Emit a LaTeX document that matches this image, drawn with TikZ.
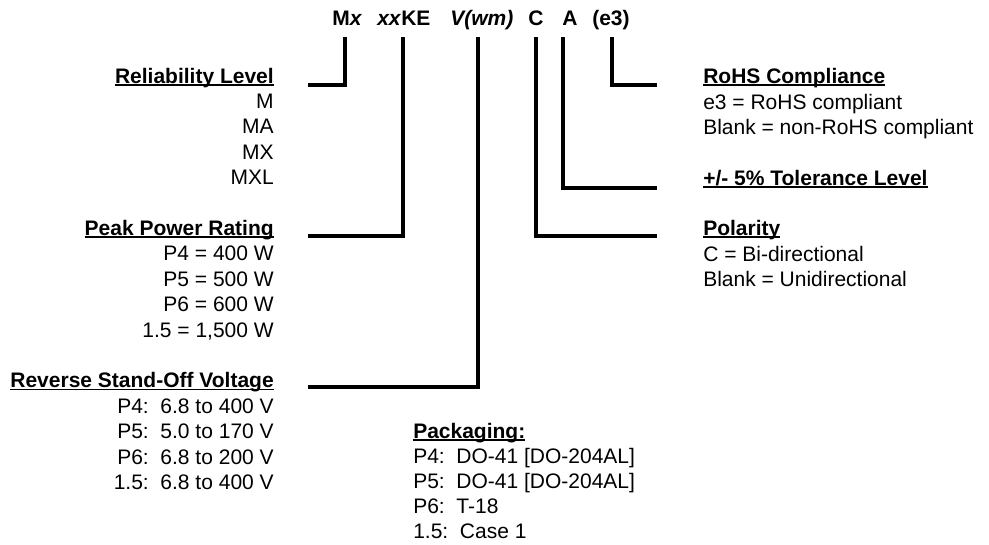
\documentclass[tikz,border=0pt]{standalone}
\usepackage{fontspec}
\setmainfont{Liberation Sans}
\newcommand{\hdr}[1]{\setbox0\hbox{\bfseries #1}\rlap{\rule[-1.9pt]{\wd0}{1.3pt}}\box0}
\tikzset{
  txt/.style={inner sep=0pt, font=\fontsize{15.75}{19}\selectfont\frenchspacing},
  lft/.style={txt, anchor=base east},
  rgt/.style={txt, anchor=base west},
  hd/.style={txt, anchor=base west, font=\fontsize{15.75}{19}\selectfont\bfseries},
  conn/.style={line width=2.4pt, line join=miter}
}
\begin{document}
\begin{tikzpicture}[x=0.75pt,y=-0.75pt]
\useasboundingbox (0,0) rectangle (989,544);
% header
\node[hd] (hMx) at (332,25) {M\textit{x}};
\node[hd] (hxx) at (377,25) {\textit{xx}KE};
\node[hd] (hV) at (450,25) {\textit{V(wm)}};
\node[hd] (hC) at (528,25) {C};
\node[hd] (hA) at (562,25) {A};
\node[hd] (he3) at (592,25) {(e3)};
% connector ends
\coordinate (tMx) at (345,37);
\coordinate (txx) at (403,37);
\coordinate (tV) at (478,37);
\coordinate (tC) at (536,37);
\coordinate (tA) at (563,37);
\coordinate (te3) at (612,37);
\coordinate (eMx) at (308,85);
\coordinate (exx) at (308,236);
\coordinate (eV) at (308,387);
\coordinate (eC) at (657,236);
\coordinate (eA) at (657,188);
\coordinate (ee3) at (657,85);
\draw[conn] (tMx) |- (eMx);
\draw[conn] (txx) |- (exx);
\draw[conn] (tV) |- (eV);
\draw[conn] (tC) |- (eC);
\draw[conn] (tA) |- (eA);
\draw[conn] (te3) |- (ee3);
% left column
\node[lft] (rel) at (274,83) {\hdr{Reliability Level}};
\node[lft] (rel1) at (274,108.4) {M};
\node[lft] (rel2) at (274,133.8) {MA};
\node[lft] (rel3) at (274,159.2) {MX};
\node[lft] (rel4) at (274,184.6) {MXL};
\node[lft] (ppr) at (274,235.4) {\hdr{Peak Power Rating}};
\node[lft] (ppr1) at (274,260.8) {P4 = 400 W};
\node[lft] (ppr2) at (274,286.2) {P5 = 500 W};
\node[lft] (ppr3) at (274,311.6) {P6 = 600 W};
\node[lft] (ppr4) at (274,337) {1.5 = 1,500 W};
\node[lft] (rso) at (274,387.8) {\hdr{Reverse Stand-Off Voltage}};
\node[lft] (rso1) at (274,413.2) {P4:\ \ 6.8 to 400 V};
\node[lft] (rso2) at (274,438.6) {P5:\ \ 5.0 to 170 V};
\node[lft] (rso3) at (274,464) {P6:\ \ 6.8 to 200 V};
\node[lft] (rso4) at (274,489.4) {1.5:\ \ 6.8 to 400 V};
% right column
\node[rgt] (rohs) at (703,83.5) {\hdr{RoHS Compliance}};
\node[rgt] (rohs1) at (703,109) {e3 = RoHS compliant};
\node[rgt] (rohs2) at (703,134.4) {Blank = non-RoHS compliant};
\node[rgt] (tol) at (703,185.2) {\hdr{+/- 5\% Tolerance Level}};
\node[rgt] (pol) at (703,235.6) {\hdr{Polarity}};
\node[rgt] (pol1) at (703,261) {C = Bi-directional};
\node[rgt] (pol2) at (703,286.4) {Blank = Unidirectional};
% packaging
\node[rgt] (pkg) at (413,438) {\hdr{Packaging:}};
\node[rgt] (pkg1) at (413,463) {P4:\ \ DO-41 [DO-204AL]};
\node[rgt] (pkg2) at (413,488) {P5:\ \ DO-41 [DO-204AL]};
\node[rgt] (pkg3) at (413,513) {P6:\ \ T-18};
\node[rgt] (pkg4) at (413,538) {1.5:\ \ Case 1};
\end{tikzpicture}
\end{document}
